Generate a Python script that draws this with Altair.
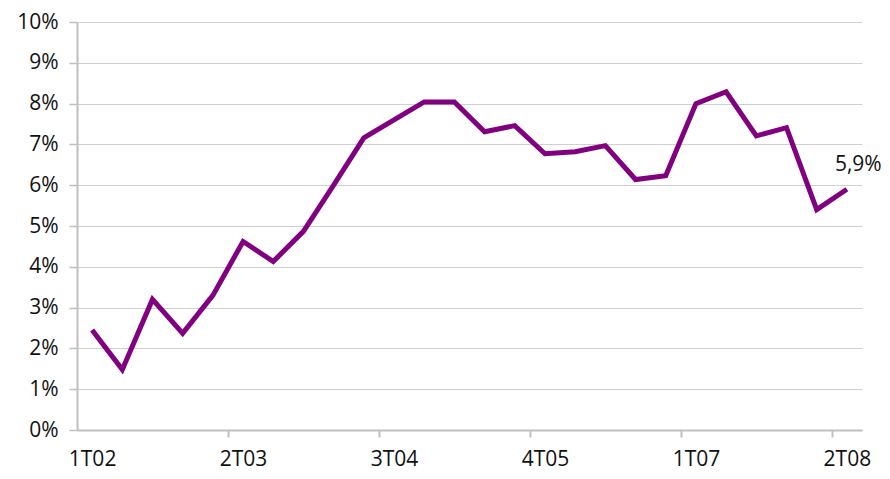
import altair as alt
import pandas as pd

quarters = ["1T02", "2T02", "3T02", "4T02",
            "1T03", "2T03", "3T03", "4T03",
            "1T04", "2T04", "3T04", "4T04",
            "1T05", "2T05", "3T05", "4T05",
            "1T06", "2T06", "3T06", "4T06",
            "1T07", "2T07", "3T07", "4T07",
            "1T08", "2T08"]
values = [2.45, 1.48, 3.2, 2.37,
          3.3, 4.62, 4.13, 4.87,
          6.0, 7.16, 7.6, 8.04,
          8.04, 7.31, 7.46, 6.77,
          6.82, 6.97, 6.14, 6.23,
          8.0, 8.29, 7.21, 7.41,
          5.4, 5.9]
label_every = 5
y_ticks = list(range(0, 11))

df = pd.DataFrame({"idx": list(range(len(quarters))), "q": quarters, "v": values})

FONT = "Open Sans"
FS = 21
n = len(quarters)
label_vals = [i for i in range(0, n, label_every)]
tick_vals = [i - 0.5 for i in range(label_every, n, label_every)]
axis_vals = sorted(label_vals + tick_vals)
names_js = "[" + ",".join("'" + q + "'" for q in quarters) + "]"

x_enc = alt.X(
    "idx:Q",
    scale=alt.Scale(domain=[-0.5, n - 0.5], nice=False, zero=False),
    axis=alt.Axis(
        title=None,
        values=axis_vals,
        labelExpr=f"datum.value % 1 == 0 ? {names_js}[datum.value] : ''",
        labelOverlap=False,
        grid=False,
        domainColor="#c0c0c0",
        domainWidth=2,
        tickColor="#c0c0c0",
        tickWidth=2,
        tickSize=7,
        tickOpacity={"condition": {"test": "datum.value % 1 == 0", "value": 0}, "value": 1},
        labelFont=FONT,
        labelFontSize=FS,
        labelColor="#111111",
        labelBaseline="alphabetic",
        labelPadding=28,
    ),
)
y_enc = alt.Y(
    "v:Q",
    scale=alt.Scale(domain=[0, 10], nice=False),
    axis=alt.Axis(
        title=None,
        values=y_ticks,
        labelExpr="datum.value + '%'",
        grid=True,
        gridColor="#d0d0d0",
        gridWidth=1,
        domainColor="#c0c0c0",
        domainWidth=2,
        tickColor="#c0c0c0",
        tickWidth=1.5,
        tickSize=8,
        labelFont=FONT,
        labelFontSize=FS,
        labelColor="#111111",
        labelPadding=11,
    ),
)

line = alt.Chart(df).mark_line(color="#800080", strokeWidth=5, strokeJoin="miter").encode(
    x=x_enc, y=y_enc
)

label = (
    alt.Chart(df)
    .transform_filter(f"datum.idx == {n - 1}")
    .transform_calculate(txt="replace(format(datum.v, '.1f'), '.', ',') + '%'")
    .mark_text(align="left", baseline="alphabetic", dx=-12, dy=-18,
               font=FONT, fontSize=FS, color="#111111")
    .encode(x="idx:Q", y="v:Q", text="txt:N")
)

chart = (
    alt.layer(line, label)
    .properties(
        width=785,
        height=408,
        autosize=alt.AutoSizeParams(type="none"),
        padding={"left": 69, "top": 14, "right": 20, "bottom": 41},
    )
    .configure_view(stroke=None)
)

chart.save("out.html", embed_options={"renderer": "svg", "actions": False})
